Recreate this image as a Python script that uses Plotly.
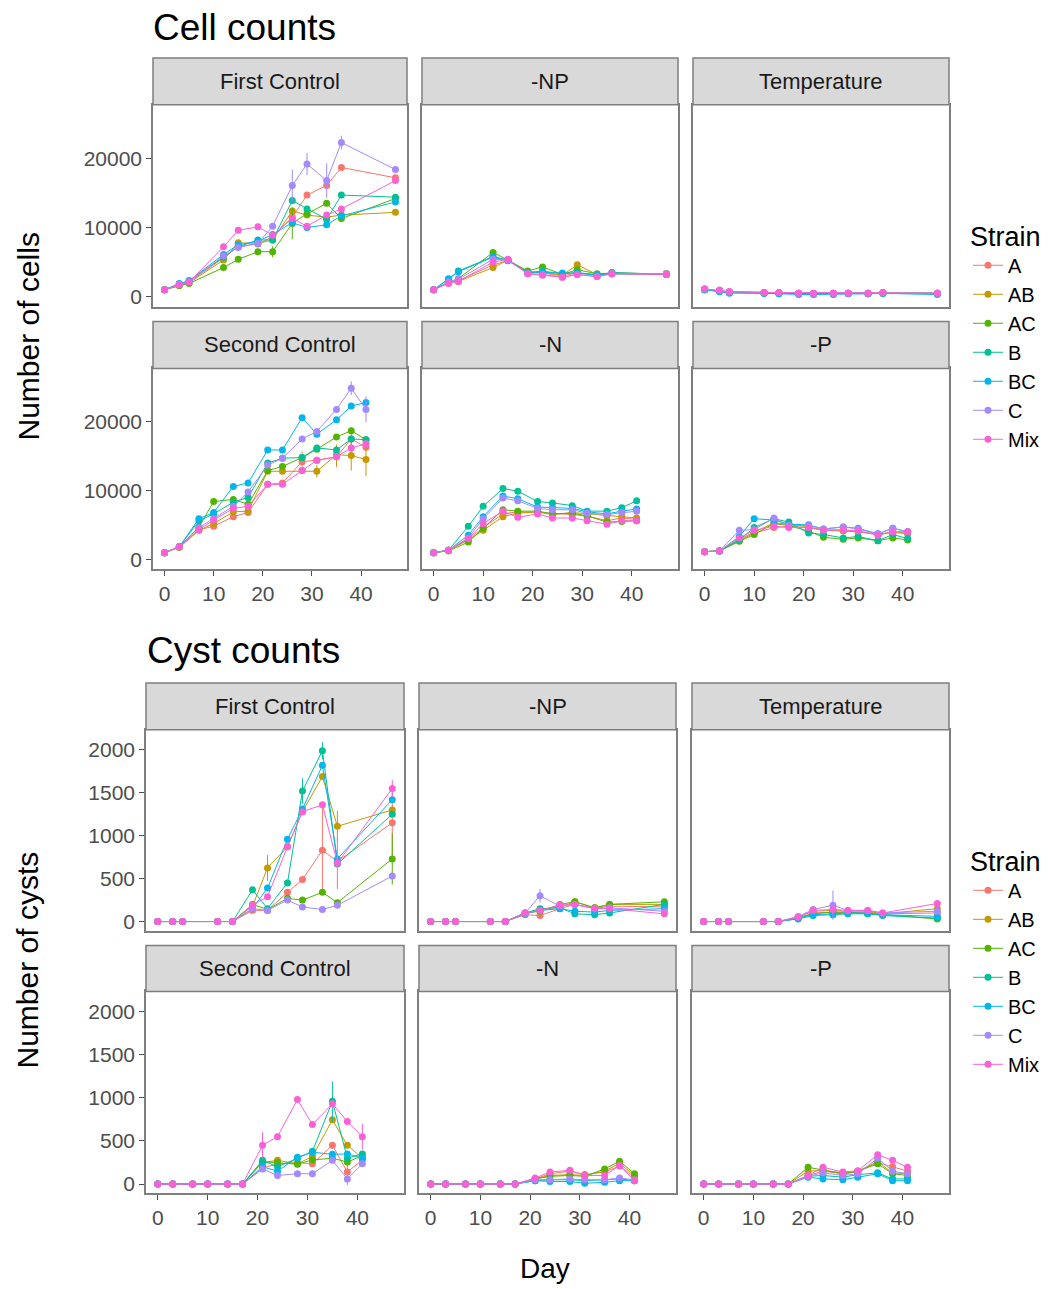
import plotly.graph_objects as go

# ---------------- data ----------------
strains = ["A", "AB", "AC", "B", "BC", "C", "Mix"]
colors = ["#F8766D", "#C49A00", "#53B400", "#00C094", "#00B6EB", "#A58AFF", "#FB61D7"]
facets = ["First Control", "-NP", "Temperature", "Second Control", "-N", "-P"]

days_first = [0, 3, 5, 12, 15, 19, 22, 26, 29, 33, 36, 47]
days_second = [0, 3, 7, 10, 14, 17, 21, 24, 28, 31, 35, 38, 41]

x_ticks = [0, 10, 20, 30, 40]
cell_ticks = [0, 10000, 20000]
cyst_ticks = [0, 500, 1000, 1500, 2000]

# Cell counts
cells_first_control = {
    "A":   [1000, 1700, 2100, 5600, 7300, 7600, 8700, 11500, 14700, 16100, 18700, 17200],
    "AB":  [1000, 1600, 2000, 5300, 7800, 7700, 8200, 12400, 11800, 11500, 11800, 12200],
    "AC":  [1000, 1600, 1900, 4200, 5400, 6500, 6500, 10600, 12000, 13500, 11300, 14200],
    "B":   [1000, 1800, 2300, 5700, 7200, 8200, 8200, 13900, 12700, 11200, 14700, 14400],
    "BC":  [1000, 1900, 2300, 6100, 7500, 8000, 9000, 10700, 10000, 10400, 11700, 13700],
    "C":   [1000, 1800, 2100, 5900, 7100, 7700, 10200, 16100, 19200, 16800, 22300, 18400],
    "Mix": [1000, 1700, 2100, 7200, 9600, 10100, 8900, 11300, 10200, 11800, 12700, 16800],
}
cells_np = {
    "A":   [1000, 2000, 2300, 4600, 5200, 3600, 3400, 3000, 3400, 3200, 3300, 3300],
    "AB":  [1000, 2000, 2200, 4200, 5300, 3500, 3500, 3100, 4600, 3200, 3400, 3300],
    "AC":  [1000, 2100, 2600, 6400, 5300, 3700, 4300, 3200, 3900, 3300, 3400, 3300],
    "B":   [1000, 2500, 3700, 5800, 5300, 3500, 3700, 3300, 3500, 3100, 3500, 3200],
    "BC":  [1000, 2600, 3600, 5700, 5200, 3400, 3500, 3400, 3400, 3100, 3300, 3200],
    "C":   [1000, 2100, 2500, 5400, 5300, 3300, 3200, 2800, 3200, 2900, 3300, 3300],
    "Mix": [1000, 1900, 2200, 5000, 5400, 3300, 3100, 2800, 3200, 2900, 3300, 3200],
}
cells_temperature = {
    "A":   [1100, 900, 700, 600, 500, 500, 400, 500, 500, 500, 600, 500],
    "AB":  [1000, 800, 700, 600, 500, 500, 400, 400, 500, 500, 500, 500],
    "AC":  [1000, 800, 600, 500, 500, 400, 400, 400, 500, 400, 500, 500],
    "B":   [1000, 800, 600, 500, 500, 400, 400, 400, 400, 400, 500, 400],
    "BC":  [1000, 700, 500, 500, 400, 300, 300, 300, 400, 400, 500, 300],
    "C":   [1100, 900, 700, 600, 600, 500, 500, 500, 500, 500, 600, 500],
    "Mix": [1100, 900, 700, 600, 600, 500, 500, 500, 500, 500, 600, 500],
}
cells_second_control = {
    "A":   [950, 1800, 4300, 4800, 6200, 6800, 10900, 11100, 14200, 14400, 14900, 17500, 16300],
    "AB":  [950, 1700, 4200, 5200, 6900, 7000, 12800, 12800, 12900, 12800, 15200, 15100, 14500],
    "AC":  [950, 1800, 4700, 8400, 8700, 8000, 12900, 13500, 14800, 16000, 17800, 18700, 17400],
    "B":   [950, 1800, 5600, 6600, 8300, 9000, 14000, 14700, 14800, 16200, 15900, 17500, 17400],
    "BC":  [950, 1800, 5900, 6800, 10600, 11100, 15900, 15900, 20600, 18200, 20300, 22300, 22800],
    "C":   [950, 1800, 4600, 5900, 7700, 9800, 13700, 14700, 17500, 18600, 21800, 24900, 21800],
    "Mix": [950, 1800, 4300, 5700, 7400, 7700, 10900, 10900, 12900, 14400, 14900, 16200, 16800],
}
cells_n = {
    "A":   [950, 1300, 2900, 4600, 6600, 6900, 6800, 6700, 6500, 6300, 5600, 6000, 5800],
    "AB":  [950, 1300, 2800, 4200, 6200, 6700, 6900, 6500, 6800, 6600, 6300, 6200, 6000],
    "AC":  [950, 1200, 2500, 4500, 7200, 7000, 7000, 6600, 6700, 6300, 5400, 5500, 5600],
    "B":   [950, 1300, 4800, 7700, 10300, 9900, 8400, 8200, 7800, 7000, 7000, 7500, 8500],
    "BC":  [950, 1300, 3500, 6200, 9200, 8800, 7600, 7500, 7400, 6900, 6600, 7000, 7300],
    "C":   [950, 1300, 3100, 5900, 8900, 8500, 7400, 7200, 7200, 6700, 6500, 6800, 7000],
    "Mix": [950, 1300, 3000, 5200, 7000, 6100, 6600, 6000, 6000, 5600, 5100, 5600, 5600],
}
cells_p = {
    "A":   [1100, 1200, 2700, 3800, 4600, 4800, 4600, 4300, 4200, 4100, 3600, 3900, 3700],
    "AB":  [1100, 1200, 2900, 3900, 5300, 5100, 4700, 4200, 4100, 4000, 3600, 4000, 3800],
    "AC":  [1100, 1200, 2600, 3600, 5200, 4900, 4100, 3200, 2900, 3100, 2700, 3100, 2800],
    "B":   [1100, 1200, 2800, 4600, 5900, 5400, 3800, 3600, 3100, 3300, 2700, 3600, 3000],
    "BC":  [1100, 1200, 3300, 5900, 5700, 5100, 5000, 4400, 4700, 4500, 3700, 4500, 4000],
    "C":   [1100, 1200, 4200, 4300, 6000, 4900, 4900, 4400, 4700, 4400, 3700, 4500, 4000],
    "Mix": [1100, 1200, 3100, 4200, 4800, 4600, 4600, 4200, 4300, 4100, 3500, 4000, 4000],
}

# Cyst counts
cysts_first_control = {
    "A":   [0, 0, 0, 0, 0, 130, 130, 340, 490, 830, 700, 1150],
    "AB":  [0, 0, 0, 0, 0, 180, 625, 870, 1280, 1690, 1110, 1300],
    "AC":  [0, 0, 0, 0, 0, 200, 140, 270, 250, 340, 220, 730],
    "B":   [0, 0, 0, 0, 0, 370, 150, 450, 1520, 1990, 670, 1250],
    "BC":  [0, 0, 0, 0, 0, 150, 390, 960, 1310, 1820, 730, 1420],
    "C":   [0, 0, 0, 0, 0, 150, 130, 250, 170, 140, 190, 530],
    "Mix": [0, 0, 0, 0, 0, 190, 290, 870, 1280, 1360, 680, 1550],
}
cysts_np = {
    "A":   [0, 0, 0, 0, 0, 80, 70, 150, 200, 150, 180, 170],
    "AB":  [0, 0, 0, 0, 0, 90, 140, 170, 230, 160, 200, 200],
    "AC":  [0, 0, 0, 0, 0, 100, 120, 200, 230, 160, 200, 230],
    "B":   [0, 0, 0, 0, 0, 100, 150, 160, 90, 80, 100, 200],
    "BC":  [0, 0, 0, 0, 0, 90, 130, 150, 120, 110, 130, 150],
    "C":   [0, 0, 0, 0, 0, 100, 300, 180, 200, 150, 160, 120],
    "Mix": [0, 0, 0, 0, 0, 100, 130, 190, 200, 150, 150, 90],
}
cysts_temperature = {
    "A":   [0, 0, 0, 0, 0, 40, 100, 110, 100, 110, 90, 100],
    "AB":  [0, 0, 0, 0, 0, 50, 120, 130, 120, 120, 90, 150],
    "AC":  [0, 0, 0, 0, 0, 40, 90, 110, 110, 90, 80, 30],
    "B":   [0, 0, 0, 0, 0, 30, 70, 80, 90, 90, 70, 40],
    "BC":  [0, 0, 0, 0, 0, 40, 80, 90, 100, 100, 80, 60],
    "C":   [0, 0, 0, 0, 0, 60, 140, 190, 130, 130, 100, 120],
    "Mix": [0, 0, 0, 0, 0, 50, 130, 140, 130, 130, 100, 210],
}
cysts_second_control = {
    "A":   [0, 0, 0, 0, 0, 0, 190, 230, 250, 235, 450, 140, 280],
    "AB":  [0, 0, 0, 0, 0, 0, 250, 275, 235, 320, 745, 450, 300],
    "AC":  [0, 0, 0, 0, 0, 0, 260, 250, 230, 280, 300, 255, 330],
    "B":   [0, 0, 0, 0, 0, 0, 275, 200, 300, 380, 960, 300, 350],
    "BC":  [0, 0, 0, 0, 0, 0, 200, 150, 310, 370, 345, 350, 300],
    "C":   [0, 0, 0, 0, 0, 0, 175, 100, 120, 120, 275, 60, 235],
    "Mix": [0, 0, 0, 0, 0, 0, 450, 550, 980, 690, 930, 725, 550],
}
cysts_n = {
    "A":   [0, 0, 0, 0, 0, 0, 60, 120, 150, 110, 140, 210, 80],
    "AB":  [0, 0, 0, 0, 0, 0, 60, 100, 110, 100, 150, 240, 100],
    "AC":  [0, 0, 0, 0, 0, 0, 60, 90, 100, 90, 175, 265, 120],
    "B":   [0, 0, 0, 0, 0, 0, 40, 50, 50, 40, 50, 60, 40],
    "BC":  [0, 0, 0, 0, 0, 0, 40, 30, 30, 10, 20, 40, 40],
    "C":   [0, 0, 0, 0, 0, 0, 50, 50, 60, 50, 50, 70, 50],
    "Mix": [0, 0, 0, 0, 0, 0, 70, 140, 160, 100, 100, 215, 40],
}
cysts_p = {
    "A":   [0, 0, 0, 0, 0, 0, 100, 150, 120, 140, 250, 200, 150],
    "AB":  [0, 0, 0, 0, 0, 0, 150, 160, 130, 150, 260, 130, 120],
    "AC":  [0, 0, 0, 0, 0, 0, 195, 160, 120, 150, 235, 120, 100],
    "B":   [0, 0, 0, 0, 0, 0, 90, 100, 80, 110, 130, 60, 60],
    "BC":  [0, 0, 0, 0, 0, 0, 80, 60, 50, 80, 120, 40, 40],
    "C":   [0, 0, 0, 0, 0, 0, 90, 130, 100, 120, 300, 150, 120],
    "Mix": [0, 0, 0, 0, 0, 0, 100, 195, 140, 155, 340, 275, 195],
}

# Visible error bars; others are too small to see
cell_errors = {
    ("First Control", "C"):   [0, 0, 0, 0, 0, 0, 0, 2300, 1600, 2500, 1000, 0],
    ("First Control", "AC"):  [0, 0, 0, 0, 0, 0, 800, 2300, 0, 0, 0, 0],
    ("Second Control", "AB"): [0, 0, 0, 0, 0, 0, 0, 0, 0, 900, 1500, 2200, 2400],
    ("Second Control", "C"):  [0, 0, 0, 0, 0, 0, 0, 0, 0, 0, 0, 1000, 1900],
    ("Second Control", "A"):  [0, 0, 0, 0, 0, 0, 0, 0, 1500, 0, 1500, 1700, 0],
}
cyst_errors = {
    ("First Control", "AB"):  [0, 0, 0, 0, 0, 0, 150, 0, 0, 0, 180, 0],
    ("First Control", "A"):   [0, 0, 0, 0, 0, 0, 0, 0, 0, 500, 0, 450],
    ("First Control", "B"):   [0, 0, 0, 0, 0, 0, 0, 0, 150, 100, 0, 0],
    ("First Control", "Mix"): [0, 0, 0, 0, 0, 0, 0, 0, 0, 0, 300, 100],
    ("First Control", "AC"):  [0, 0, 0, 0, 0, 0, 0, 0, 0, 0, 0, 300],
    ("-NP", "C"):             [0, 0, 0, 0, 0, 0, 80, 0, 0, 0, 0, 0],
    ("Temperature", "C"):     [0, 0, 0, 0, 0, 0, 0, 170, 0, 0, 0, 0],
    ("Second Control", "B"):  [0, 0, 0, 0, 0, 0, 0, 0, 0, 0, 230, 0, 0],
    ("Second Control", "Mix"): [0, 0, 0, 0, 0, 0, 150, 0, 0, 0, 0, 0, 150],
    ("Second Control", "A"):  [0, 0, 0, 0, 0, 0, 0, 0, 0, 0, 0, 150, 0],
}

cell_panels = [cells_first_control, cells_np, cells_temperature,
               cells_second_control, cells_n, cells_p]
cyst_panels = [cysts_first_control, cysts_np, cysts_temperature,
               cysts_second_control, cysts_n, cysts_p]
facet_days = [days_first, days_first, days_first, days_second, days_second, days_second]

# ---------------- layout geometry (window pixels) ----------------
W, H = 1062, 1289
sections = [
    dict(panels=cell_panels, errors=cell_errors,
         cols=[(153, 407), (422, 678), (693, 949)],
         plots=[(105, 307), (369, 570)], strips=[(58, 105), (322, 369)],
         yrange=[-1440, 27770], yticks=cell_ticks, legend="legend"),
    dict(panels=cyst_panels, errors=cyst_errors,
         cols=[(146, 404), (419, 676), (692, 949)],
         plots=[(731, 932), (993, 1195)], strips=[(684, 731), (947, 993)],
         yrange=[-105, 2233], yticks=cyst_ticks, legend="legend2"),
]

def fx(p):
    return p / W

def fy(p):
    return 1 - p / H

FONT = "Liberation Sans, Arial, sans-serif"
BORDER = "#7F7F7F"
TICKCOL = "#4D4D4D"

fig = go.Figure()
layout = dict(
    width=W, height=H, margin=dict(l=0, r=0, t=0, b=0),
    plot_bgcolor="white", paper_bgcolor="white",
    font=dict(family=FONT, color="black"),
    shapes=[], annotations=[],
)

idx = 0
for s, sec in enumerate(sections):
    for i, facet in enumerate(facets):
        idx += 1
        row, col = i // 3, i % 3
        x0, x1 = sec["cols"][col]
        y0, y1 = sec["plots"][row]
        xs = "" if idx == 1 else str(idx)
        layout["xaxis" + xs] = dict(
            domain=[fx(x0), fx(x1)], range=[-2.35, 49.35], anchor="y" + xs,
            showgrid=False, zeroline=False, showline=True, mirror=True,
            linecolor=BORDER, linewidth=1.5,
            tickvals=x_ticks, ticks="outside" if row == 1 else "",
            ticklen=5, tickcolor=TICKCOL, tickwidth=1,
            showticklabels=(row == 1),
            tickfont=dict(size=21, color=TICKCOL, family=FONT),
        )
        layout["yaxis" + xs] = dict(
            domain=[fy(y1), fy(y0)], range=sec["yrange"], anchor="x" + xs,
            showgrid=False, zeroline=False, showline=True, mirror=True,
            linecolor=BORDER, linewidth=1.5,
            tickvals=sec["yticks"], tickformat="d",
            ticks="outside" if col == 0 else "",
            ticklen=5, tickcolor=TICKCOL, tickwidth=1,
            showticklabels=(col == 0),
            tickfont=dict(size=21, color=TICKCOL, family=FONT),
        )
        # strip
        sy0, sy1 = sec["strips"][row]
        layout["shapes"].append(dict(
            type="rect", xref="paper", yref="paper",
            x0=fx(x0), x1=fx(x1), y0=fy(sy1), y1=fy(sy0),
            fillcolor="#D9D9D9", line=dict(color=BORDER, width=1.5), layer="above"))
        layout["annotations"].append(dict(
            x=fx((x0 + x1) / 2), y=fy((sy0 + sy1) / 2), xref="paper", yref="paper",
            text=facet, showarrow=False, xanchor="center", yanchor="middle",
            font=dict(size=22, color="#1A1A1A", family=FONT)))

        data = sec["panels"][i]
        days = facet_days[i]
        for k, strain in enumerate(strains):
            err = sec["errors"].get((facet, strain))
            tr = go.Scatter(
                x=days, y=data[strain], mode="lines+markers", name=strain,
                line=dict(color=colors[k], width=1),
                marker=dict(color=colors[k], size=7),
                xaxis="x" + xs, yaxis="y" + xs,
                legend=sec["legend"], showlegend=(i == 0),
                hoverinfo="x+y+name",
            )
            if err is not None:
                tr.error_y = dict(type="data", array=err, visible=True,
                                  color=colors[k], thickness=1, width=0)
            fig.add_trace(tr)

# Titles and axis titles
layout["annotations"] += [
    dict(x=fx(151), y=fy(28), xref="paper", yref="paper", text="Cell counts",
         showarrow=False, xanchor="left", yanchor="middle",
         font=dict(size=37, color="black", family=FONT)),
    dict(x=fx(145), y=fy(652), xref="paper", yref="paper", text="Cyst counts",
         showarrow=False, xanchor="left", yanchor="middle",
         font=dict(size=37, color="black", family=FONT)),
    dict(x=fx(28), y=fy(337), xref="paper", yref="paper", text="Number of cells",
         showarrow=False, textangle=-90, xanchor="center", yanchor="middle",
         font=dict(size=30, color="black", family=FONT)),
    dict(x=fx(28), y=fy(962), xref="paper", yref="paper", text="Number of cysts",
         showarrow=False, textangle=-90, xanchor="center", yanchor="middle",
         font=dict(size=30, color="black", family=FONT)),
    dict(x=fx(545), y=fy(1270), xref="paper", yref="paper", text="Day",
         showarrow=False, xanchor="center", yanchor="middle",
         font=dict(size=28, color="black", family=FONT)),
]

legend_style = dict(
    xanchor="left", yanchor="top", bgcolor="rgba(0,0,0,0)",
    font=dict(size=20, color="black", family=FONT),
    title=dict(text="Strain", font=dict(size=27, color="black", family=FONT)),
    itemwidth=30, tracegroupgap=0,
)
layout["legend"] = dict(x=fx(968), y=fy(211), **legend_style)
layout["legend2"] = dict(x=fx(968), y=fy(837), **legend_style)

fig.update_layout(**layout)
fig.write_html("out.html",
               config={"displayModeBar": False},
               post_script="document.body.style.margin='0px';document.body.style.overflow='hidden';")
